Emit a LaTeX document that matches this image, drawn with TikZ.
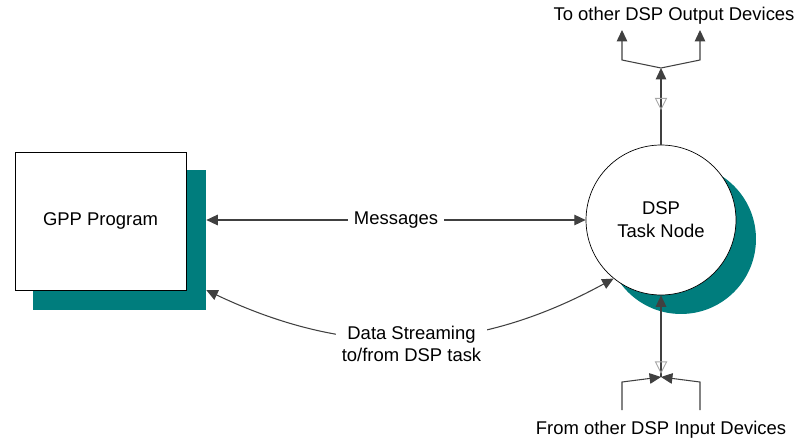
\documentclass[tikz,border=0pt]{standalone}
\usepackage{fontspec}
\setmainfont{Liberation Sans}
\usetikzlibrary{arrows.meta,shadows,decorations.markings}
\definecolor{dspteal}{RGB}{0,125,125}
\begin{document}
\begin{tikzpicture}[x=0.02cm, y=-0.02cm, font=\fontsize{10.5}{13}\selectfont,
    >={Triangle[length=6.5pt,width=6pt]},
    link/.style={draw=black!75, line width=0.6pt},
    hollowmark/.style={postaction={decorate, decoration={markings,
        mark=at position #1 with {\arrow[black!35, line width=0.5pt]{Triangle[open,reversed,length=7pt,width=7pt]}}}}},
    tealshade/.style={general shadow={fill=dspteal, shadow xshift=0.4cm, shadow yshift=-0.38cm}}]
    \useasboundingbox (0,0) rectangle (794,443);

    % boxes
    \node[rectangle, fill=dspteal, minimum width=3.46cm, minimum height=2.8cm] at (119.5,240) (gppshade) {};
    \node[rectangle, draw, fill=white, minimum width=3.42cm, minimum height=2.76cm] at (100.5,221) (gpp) {GPP Program};
    \node[circle, draw, fill=white, tealshade, minimum size=3cm, inner sep=0pt, align=center] at (661,220) (dsp) {DSP\\Task Node};

    % end labels and branch points
    \node at (674,16) (outtext) {To other DSP Output Devices};
    \node at (661,430) (intext) {From other DSP Input Devices};
    \coordinate (outjoin) at (661,68);
    \coordinate (outL) at (622,60);
    \coordinate (outR) at (700,60);
    \coordinate (injoin) at (661,377);
    \coordinate (inL) at (622,382);
    \coordinate (inR) at (700,382);

    \draw [link, <->] (dsp.west -| gppshade.east) to node [fill=white] (msgtext) {Messages} (dsp.west);
    \draw [link, <->] (gppshade.-30) to[bend right=27] node [fill=white, align=center, yshift=-3pt] (datatext) {Data Streaming\\to/from DSP task} (dsp.231);

    % output side
    \draw [link, ->, hollowmark=0.61] (dsp.north) -- (outjoin);
    \draw [link, ->] (outjoin) -- (outL) -- (outL |- 0,30);
    \draw [link, ->] (outjoin) -- (outR) -- (outR |- 0,30);

    % input side
    \draw [link, ->] (inL |- 0,410) -- (inL) -- (injoin);
    \draw [link, ->] (inR |- 0,410) -- (inR) -- (injoin);
    \draw [link, ->, hollowmark=0.19] (injoin) -- (dsp.south);
\end{tikzpicture}
\end{document}
